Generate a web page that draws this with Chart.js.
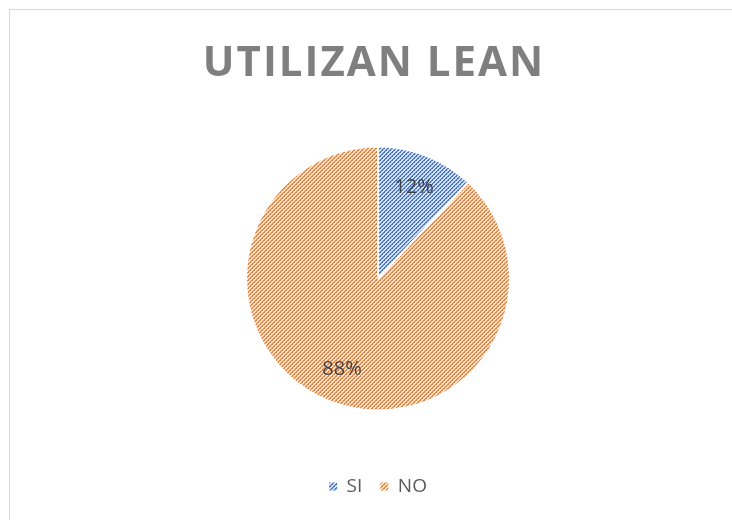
<!DOCTYPE html>
<html>
<head>
<meta charset="utf-8">
<script src="https://cdn.jsdelivr.net/npm/chart.js@4.4.1/dist/chart.umd.min.js"></script>
<style>
  html, body { margin: 0; padding: 0; background: #ffffff; }
  #wrap { position: relative; width: 732px; height: 520px; }
</style>
</head>
<body>
<div id="wrap"><canvas id="c" width="732" height="520"></canvas></div>
<script>
const chartTitle = 'UTILIZAN LEAN';
const categories = ['SI', 'NO'];
const values = [12, 88];
const labelsText = ['12%', '88%'];

function makePattern(bg, mid, dark) {
  const t = document.createElement('canvas');
  t.width = 8; t.height = 8;
  const c = t.getContext('2d');
  c.fillStyle = bg; c.fillRect(0, 0, 8, 8);
  for (let x = 0; x < 8; x++) {
    for (let y = 0; y < 8; y++) {
      const k = (x + y) % 4;
      if (k === 3) { c.fillStyle = dark; c.fillRect(x, y, 1, 1); }
      else if (k === 0) { c.fillStyle = (x % 2 === 0) ? dark : mid; c.fillRect(x, y, 1, 1); }
    }
  }
  const ctx = document.getElementById('c').getContext('2d');
  return ctx.createPattern(t, 'repeat');
}

const fills = [
  makePattern('#dbe4f5', '#8eaadc', '#4472c4'),
  makePattern('#fde7d8', '#f4b183', '#ed7d31')
];

const frameAndTitle = {
  id: 'frameAndTitle',
  beforeDraw(chart) {
    const ctx = chart.ctx;
    ctx.save();
    ctx.strokeStyle = '#d9d9d9';
    ctx.lineWidth = 1;
    ctx.strokeRect(9.5, 9.5, 800, 600);
    ctx.restore();
  },
  afterDraw(chart) {
    const ctx = chart.ctx;
    ctx.save();
    ctx.font = 'bold 42px "Open Sans"';
    if ('letterSpacing' in ctx) ctx.letterSpacing = '2px';
    ctx.fillStyle = '#7f7f7f';
    ctx.textAlign = 'center';
    ctx.textBaseline = 'alphabetic';
    ctx.fillText(chartTitle, 374, 76);
    ctx.restore();
  }
};

const sliceLabels = {
  id: 'sliceLabels',
  afterDatasetsDraw(chart) {
    const ctx = chart.ctx;
    const meta = chart.getDatasetMeta(0);
    ctx.save();
    ctx.font = '20px "Open Sans"';
    ctx.fillStyle = '#404040';
    ctx.textAlign = 'center';
    ctx.textBaseline = 'middle';
    meta.data.forEach((arc, i) => {
      const p = arc.getProps(['x', 'y', 'startAngle', 'endAngle', 'outerRadius'], true);
      const mid = (p.startAngle + p.endAngle) / 2;
      const r = p.outerRadius * 0.74;
      ctx.fillText(labelsText[i], p.x + Math.cos(mid) * r, p.y + Math.sin(mid) * r);
    });
    ctx.restore();
  }
};

new Chart(document.getElementById('c'), {
  type: 'pie',
  data: {
    labels: categories,
    datasets: [{
      data: values,
      backgroundColor: fills,
      borderColor: '#ffffff',
      borderWidth: 2,
      radius: 132
    }]
  },
  options: {
    responsive: false,
    animation: false,
    layout: { padding: { top: 98, left: 24, right: 0, bottom: 14 } },
    plugins: {
      title: { display: false },
      tooltip: { enabled: false },
      legend: {
        display: true,
        position: 'bottom',
        labels: {
          boxWidth: 8,
          boxHeight: 8,
          padding: 18,
          color: '#595959',
          font: { family: '"Open Sans"', size: 19 },
          generateLabels(chart) {
            const base = Chart.overrides.pie.plugins.legend.labels.generateLabels(chart);
            return base.map(l => Object.assign(l, { lineWidth: 0, strokeStyle: 'rgba(0,0,0,0)' }));
          }
        }
      }
    }
  },
  plugins: [frameAndTitle, sliceLabels]
});
</script>
</body>
</html>
